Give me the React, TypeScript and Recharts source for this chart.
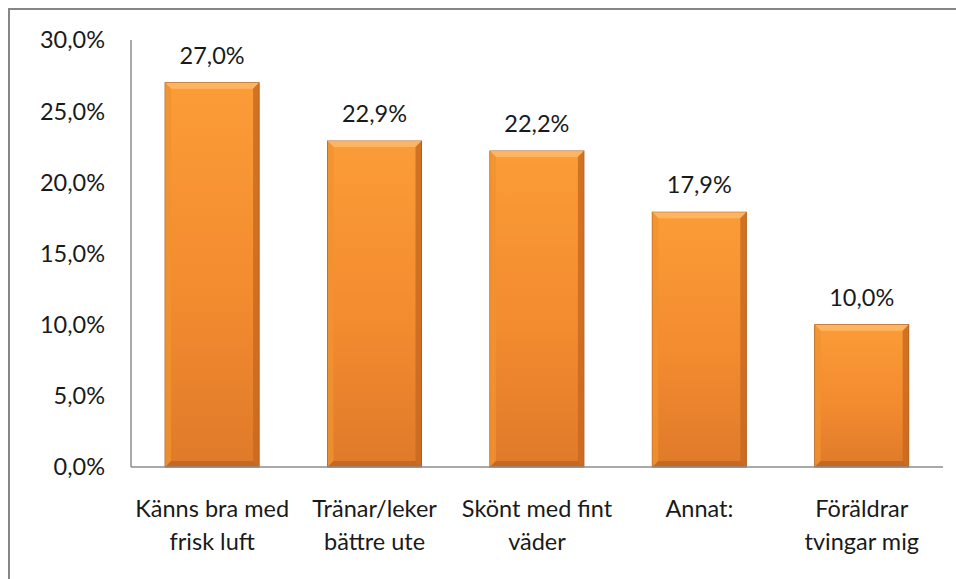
import React from 'react';
import { BarChart, Bar, XAxis, YAxis, LabelList } from 'recharts';

const categories = ['Känns bra med frisk luft', 'Tränar/leker bättre ute', 'Skönt med fint väder', 'Annat:', 'Föräldrar tvingar mig'];
const categoryLines = [
  ['Känns bra med', 'frisk luft'],
  ['Tränar/leker', 'bättre ute'],
  ['Skönt med fint', 'väder'],
  ['Annat:'],
  ['Föräldrar', 'tvingar mig'],
];
const shares = [27.0, 22.9, 22.2, 17.9, 10.0];
const yTicks = [0, 5, 10, 15, 20, 25, 30];

const data = categories.map((name, i) => ({ name, value: shares[i], lines: categoryLines[i] }));

const FONT = 'Lato, "Open Sans", sans-serif';
const FS = 23.5;
const fmt = (v: number) => v.toFixed(1).replace('.', ',') + '%';

// bevelled bar like the Excel preset
const BevelBar = (props: any) => {
  const { x, y, width, height } = props;
  if (!height || height <= 0) return null;
  const b = 6;
  return (
    <g>
      <rect x={x} y={y} width={width} height={height} fill="url(#barFill)" stroke="#a85a1c" strokeWidth={1} />
      <polygon points={`${x},${y} ${x + width},${y} ${x + width - b},${y + b} ${x + b},${y + b}`} fill="#fdb866" opacity={0.9} />
      <polygon points={`${x},${y} ${x + b},${y + b} ${x + b},${y + height - b} ${x},${y + height}`} fill="#f0922f" opacity={0.8} />
      <polygon points={`${x + width},${y} ${x + width},${y + height} ${x + width - b},${y + height - b} ${x + width - b},${y + b}`} fill="#c7681f" opacity={0.8} />
      <polygon points={`${x},${y + height} ${x + width},${y + height} ${x + width - b},${y + height - b} ${x + b},${y + height - b}`} fill="#b9621f" opacity={0.7} />
    </g>
  );
};

const CategoryTick = (props: any) => {
  const { x, y, payload } = props;
  const lines = categoryLines[payload.index] || [payload.value];
  return (
    <text x={x} y={y} textAnchor="middle" fill="#1a1a1a" fontSize={FS} fontFamily={FONT}>
      {lines.map((l: string, i: number) => (
        <tspan key={i} x={x} dy={i === 0 ? 42 : 33}>{l}</tspan>
      ))}
    </text>
  );
};

export default function App() {
  return (
    <div style={{ position: 'fixed', left: 0, top: 0, width: 956, height: 579, background: '#fff', overflow: 'hidden' }}>
      <div style={{ position: 'absolute', left: 8, top: 8, width: 960, height: 600, borderTop: '2px solid #868686', borderLeft: '2px solid #868686' }} />
      <div style={{ position: 'absolute', left: 0, top: 0 }}>
        <BarChart width={956} height={579} data={data} margin={{ top: 40, right: 13, left: 0, bottom: 0 }} barCategoryGap="21%">
          <defs>
            <linearGradient id="barFill" x1="0" y1="0" x2="0" y2="1">
              <stop offset="0%" stopColor="#fb9c37" />
              <stop offset="55%" stopColor="#f38b2f" />
              <stop offset="100%" stopColor="#df7a2a" />
            </linearGradient>
          </defs>
          <XAxis
            dataKey="name"
            tick={<CategoryTick />}
            tickLine={false}
            axisLine={{ stroke: '#8c8c8c', strokeWidth: 1.5 }}
            interval={0}
            height={112}
          />
          <YAxis
            domain={[0, 30]}
            ticks={yTicks}
            tickFormatter={fmt}
            tickLine={false}
            axisLine={{ stroke: '#8c8c8c', strokeWidth: 1.5 }}
            tick={{ fill: '#1a1a1a', fontSize: FS, fontFamily: FONT }}
            tickMargin={20}
            width={131}
          />
          <Bar dataKey="value" shape={<BevelBar />} isAnimationActive={false}>
            <LabelList dataKey="value" position="top" offset={19} formatter={(v: any) => fmt(Number(v))} style={{ fill: '#1a1a1a', fontSize: FS, fontFamily: FONT }} />
          </Bar>
        </BarChart>
      </div>
    </div>
  );
}
